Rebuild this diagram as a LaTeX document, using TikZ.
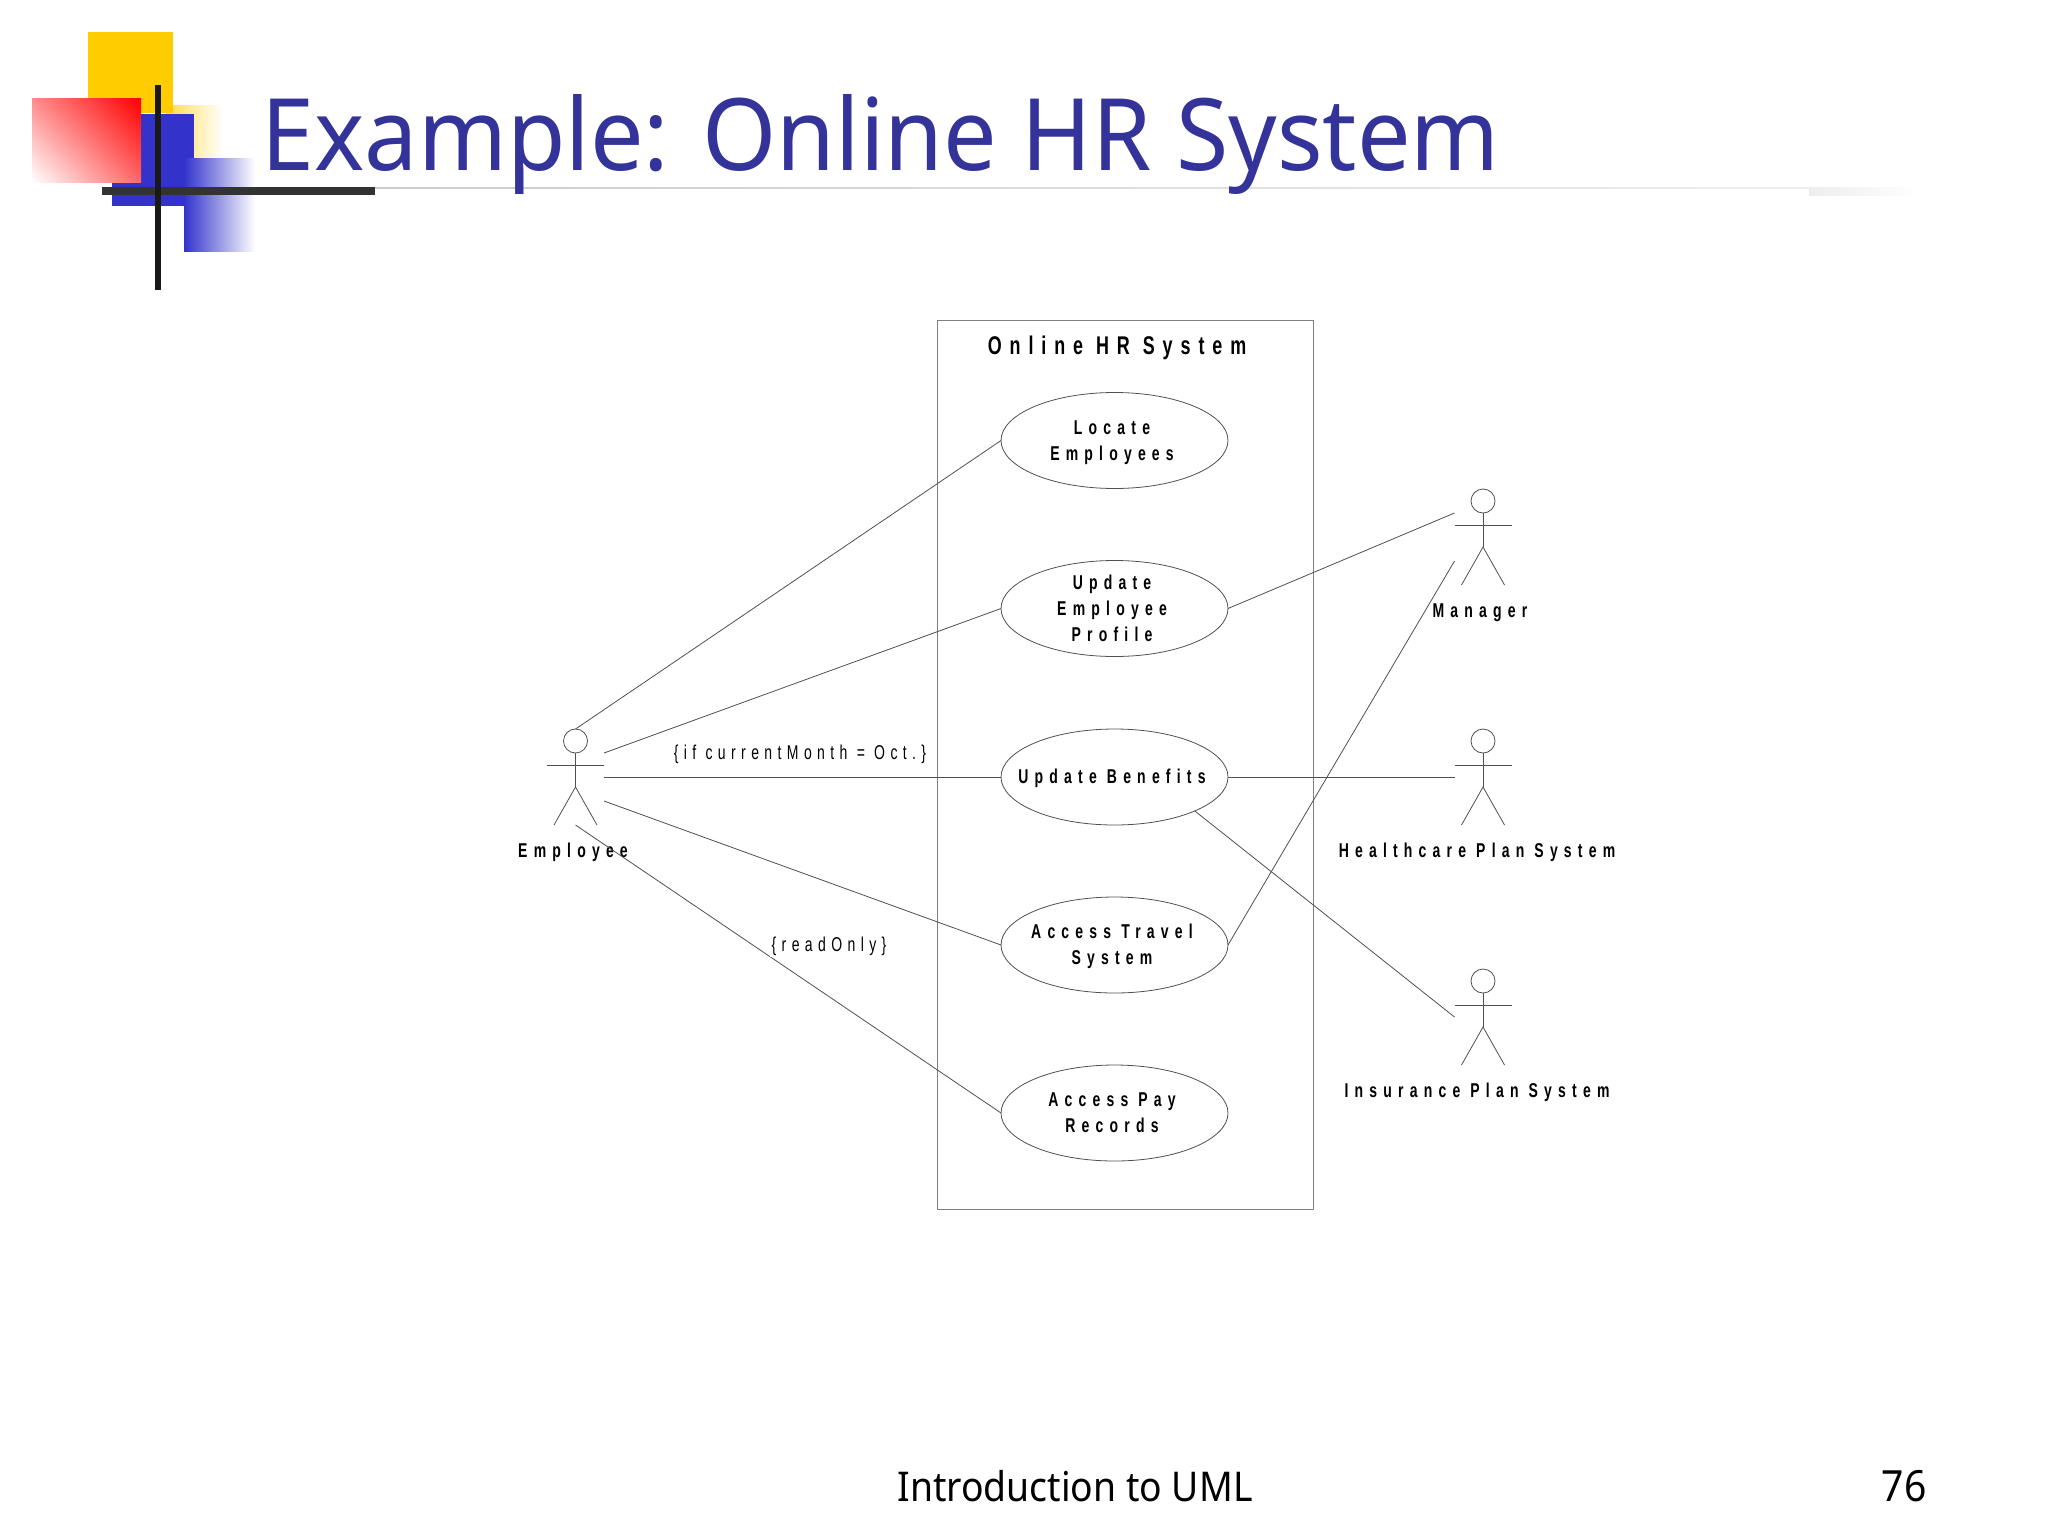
\documentclass[tikz,border=0pt]{standalone}
\usepackage{fontspec}
\usetikzlibrary{shapes.geometric,shadings}
\setmainfont{Noto Sans}
\newfontfamily\titlefont[FakeStretch=0.952]{Noto Sans}
\newfontfamily\footfont[FakeStretch=0.91]{Noto Sans}
\newfontfamily\umlfont[LetterSpace=31,FakeStretch=0.7]{Liberation Sans}
\newfontfamily\umlnote[LetterSpace=27,FakeStretch=0.7]{Liberation Sans}
\newcommand\uctext[1]{\smash{\raisebox{-3.2pt}{\makebox[0pt]{\hspace{-2.5pt}\begin{tabular}{@{}c@{}}#1\end{tabular}}}}}
\definecolor{titleblue}{HTML}{333399}
\definecolor{umlline}{HTML}{505050}
\definecolor{boxline}{HTML}{808080}
\definecolor{deckblue}{HTML}{3333CC}
\definecolor{deckyellow}{HTML}{FFCC00}
\tikzset{
  x=0.5pt,y=-0.5pt,
  conn/.style={draw=umlline,line width=0.4pt},
  usecase/.style={ellipse,draw=umlline,line width=0.4pt,fill=white,minimum width=113.5pt,minimum height=48pt,inner sep=0pt,outer sep=0pt,text=black,font=\umlfont\fontsize{10}{13}\selectfont\bfseries},
  actorlabel/.style={text=black,inner sep=0pt,font=\umlfont\fontsize{10}{13}\selectfont\bfseries},
  constraint/.style={text=black,inner sep=1pt,fill=white,font=\umlnote\fontsize{10}{13}\selectfont},
  pics/actor/.style={code={
    \draw[conn] (0,12) ellipse [x radius=6pt,y radius=6pt];
    \draw[conn] (0,24) -- (0,58);
    \draw[conn] (-28.5,36) -- (28.5,36);
    \draw[conn] (-21.5,96) -- (0,58) -- (21.5,96);
    \coordinate (-top) at (0,0);
    \coordinate (-bot) at (0,96);
    \coordinate (-ea) at (28.5,24);
    \coordinate (-eb) at (28.5,48);
    \coordinate (-ec) at (28.5,72);
    \coordinate (-wa) at (-28.5,24);
    \coordinate (-wb) at (-28.5,48);
    \coordinate (-wc) at (-28.5,72);
  }}
}
\begin{document}
\begin{tikzpicture}
\useasboundingbox (0,0) rectangle (2048,1536);
\fill[white] (0,0) rectangle (2048,1536);
% deck ornament
\shade[left color=deckyellow!70,right color=white] (166,106) rectangle (223,160);
\fill[deckyellow] (88,32) rectangle (173,113);
\fill[deckblue] (112,114) rectangle (194,206);
\shade[left color=deckblue,right color=white] (184,158) rectangle (255,251);
\shade[lower left=white,upper right=red,lower right=red!60!white,upper left=red!45!white] (32,99) rectangle (141,182);
\shade[left color=black!20,right color=black!7] (375,187) rectangle (1809,188);
\shade[left color=black!7,right color=white] (1809,187) rectangle (1920,195);
\fill[black!80] (102,187) rectangle (375,195);
\fill[black!90] (155,85) rectangle (161,290);
\node[anchor=base west,inner sep=0pt,text=titleblue,font=\titlefont\fontsize{50}{60}\selectfont] (title) at (261,170) {Example: Online HR System};
% system boundary
\node[draw=boxline,line width=0.5pt,minimum width=188pt,minimum height=444.5pt,inner sep=0pt,outer sep=0pt] (boundary) at (1125,764.5) {};
\node[text=black,inner sep=0pt,font=\umlfont\fontsize{12.8}{15}\selectfont\bfseries] (boundarytitle) at (1117,348) {Online HR System};
% use cases
\node[usecase] (locate) at (1114.5,440.5) {\uctext{Locate\\Employees}};
\node[usecase] (profile) at (1114.5,608.5) {\uctext{Update\\Employee\\Profile}};
\node[usecase] (benefits) at (1114.5,777) {\uctext{Update Benefits}};
\node[usecase] (travel) at (1114.5,945) {\uctext{Access Travel\\System}};
\node[usecase] (pay) at (1114.5,1113) {\uctext{Access Pay\\Records}};
% actors
\pic (emp) at (575.5,729) {actor};
\pic (mgr) at (1483,489) {actor};
\pic (hc) at (1483,729) {actor};
\pic (ins) at (1483,969) {actor};
\node[actorlabel] (emplabel) at (573,852.5) {Employee};
\node[actorlabel] (mgrlabel) at (1480,612.5) {Manager};
\node[actorlabel] (hclabel) at (1477,852.5) {Healthcare Plan System};
\node[actorlabel] (inslabel) at (1477,1092.5) {Insurance Plan System};
% connectors
\draw[conn] (emp-top) -- (locate.west);
\draw[conn] (emp-ea) -- (profile.west);
\draw[conn] (emp-eb) -- (benefits.west);
\draw[conn] (emp-ec) -- (travel.west);
\draw[conn] (emp-bot) -- (pay.west);
\draw[conn] (profile.east) -- (mgr-wa);
\draw[conn] (travel.east) -- (mgr-wc);
\draw[conn] (benefits.east) -- (hc-wb);
\draw[conn] (benefits.south east) -- (ins-wb);
% constraint labels
\node[constraint,fill=none] (ifmonth) at (800,754) {\{if currentMonth = Oct.\}};
\node[constraint] (readonly) at (829,946) {\{readOnly\}};
% footer
\node[inner sep=0pt,text=black,font=\footfont\fontsize{20.5}{24}\selectfont] (footer) at (1075,1486) {Introduction to UML};
\node[inner sep=0pt,text=black,font=\footfont\fontsize{21.5}{24}\selectfont] (pageno) at (1904,1486) {76};
\end{tikzpicture}
\end{document}
